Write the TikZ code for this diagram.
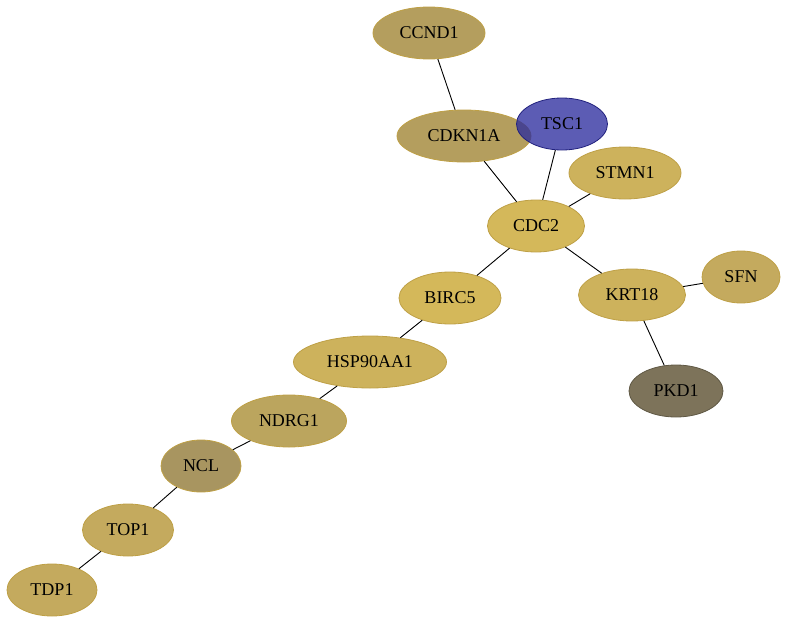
\documentclass[tikz,border=0pt]{standalone}
\usepackage{fontspec}
\setmainfont{Liberation Serif}
\usepackage{xcolor}
\usepackage{tikz}
\usetikzlibrary{shapes.geometric}

\definecolor{tanA}{RGB}{180,158,94}
\definecolor{tanB}{RGB}{212,184,90}
\definecolor{tanC}{RGB}{205,178,92}
\definecolor{tanD}{RGB}{196,170,94}
\definecolor{tanE}{RGB}{187,165,94}
\definecolor{tanF}{RGB}{168,149,96}
\definecolor{rimA}{RGB}{190,160,70}
\definecolor{pkd}{RGB}{125,115,90}
\definecolor{pkdrim}{RGB}{95,88,68}
\definecolor{tsc}{RGB}{43,43,157}

\tikzset{
  gene/.style={ellipse, draw=rimA, line width=0.8pt, inner sep=0pt,
    minimum height=52, font=\fontsize{18}{20}\selectfont},
  link/.style={draw=black, line width=0.9pt}
}

\begin{document}
\begin{tikzpicture}[x=1pt, y=-1pt]
		  \useasboundingbox (0,0) rectangle (787,624);
		  \node[gene, fill=tanA, minimum width=112] (CCND1) at (429,33) {CCND1} ; %
		  \node[gene, fill=tanA, minimum width=134] (CDKN1A) at (464,136) {CDKN1A} ; %
		  \node[gene, fill=tsc, fill opacity=0.77, text opacity=1, draw=tsc!80!black, minimum width=91] (TSC1) at (562,124) {TSC1} ; %
		  \node[gene, fill=tanC, minimum width=112] (STMN1) at (625,173) {STMN1} ; %
		  \node[gene, fill=tanB, minimum width=97] (CDC2) at (536,226) {CDC2} ; %
		  \node[gene, fill=tanB, minimum width=102] (BIRC5) at (450,298) {BIRC5} ; %
		  \node[gene, fill=tanC, minimum width=107] (KRT18) at (632,295) {KRT18} ; %
		  \node[gene, fill=tanD, minimum width=78] (SFN) at (741,277) {SFN} ; %
		  \node[gene, fill=pkd, draw=pkdrim, minimum width=94] (PKD1) at (676,391) {PKD1} ; %
		  \node[gene, fill=tanC, minimum width=153] (HSP90AA1) at (370,362) {HSP90AA1} ; %
		  \node[gene, fill=tanE, minimum width=115] (NDRG1) at (289,421) {NDRG1} ; %
		  \node[gene, fill=tanF, minimum width=80] (NCL) at (201,466) {NCL} ; %
		  \node[gene, fill=tanD, minimum width=91] (TOP1) at (128,530) {TOP1} ; %
		  \node[gene, fill=tanD, minimum width=90] (TDP1) at (52,590) {TDP1} ; %

		  \draw[link] (CCND1) -- (CDKN1A) ;
		  \draw[link] (CDKN1A) -- (CDC2) ;
		  \draw[link] (TSC1) -- (CDC2) ;
		  \draw[link] (STMN1) -- (CDC2) ;
		  \draw[link] (CDC2) -- (BIRC5) ;
		  \draw[link] (CDC2) -- (KRT18) ;
		  \draw[link] (KRT18) -- (SFN) ;
		  \draw[link] (KRT18) -- (PKD1) ;
		  \draw[link] (BIRC5) -- (HSP90AA1) ;
		  \draw[link] (HSP90AA1) -- (NDRG1) ;
		  \draw[link] (NDRG1) -- (NCL) ;
		  \draw[link] (NCL) -- (TOP1) ;
		  \draw[link] (TOP1) -- (TDP1) ;
		\end{tikzpicture}
\end{document}
